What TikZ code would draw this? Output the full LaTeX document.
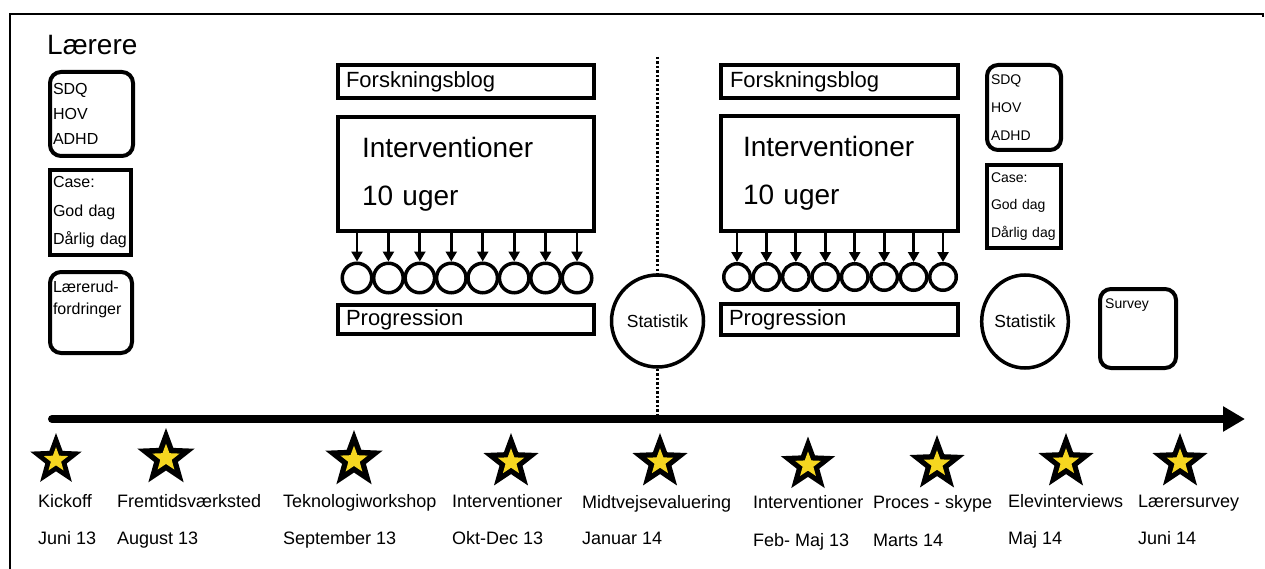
\documentclass[tikz,border=0pt]{standalone}
\usepackage{fontspec}
\setmainfont{Liberation Sans}
\usetikzlibrary{shapes.geometric,arrows.meta}
\definecolor{staryellow}{RGB}{246,214,32}
\begin{document}
\begin{tikzpicture}[x=1pt,y=-1pt,
  box/.style={draw,line width=4pt,rectangle,inner ysep=0pt,align=left},
  rbox/.style={box,rounded corners=11pt},
  fbig/.style={font=\fontsize{22}{26}\selectfont},
  fint/.style={font=\fontsize{28}{48}\selectfont},
  dot/.style={draw,circle,line width=3.5pt,inner sep=0pt},
  smallarr/.style={line width=2.8pt,-{Triangle[length=10pt,width=11pt]}},
  starout/.style={star,star points=5,star point ratio=2.4,fill=black,inner sep=0pt},
  starin/.style={star,star points=5,star point ratio=2.4,fill=staryellow,inner sep=0pt},
  lbl/.style={anchor=base west,inner sep=0pt,font=\fontsize{18}{18}\selectfont},
  stat/.style={draw,line width=3.5pt,inner sep=0pt,font=\fontsize{17.5}{20}\selectfont},
  dotline/.style={line width=2.5pt,dash pattern=on 2.5pt off 2pt}
]
\useasboundingbox (0,0) rectangle (1265,569);
% frame
\coordinate (fa) at (1263,17);
\coordinate (fb) at (1263,14);
\coordinate (fc) at (10,14);
\coordinate (fd) at (10,569);
\draw[line width=2pt] (fa) -- (fb) -- (fc) -- (fd);

% left column
\node[anchor=base west,inner sep=0pt,font=\fontsize{28}{30}\selectfont] (laerere) at (47,55) {Lærere};
\node[rbox,font=\fontsize{16}{25}\selectfont,inner xsep=3pt,text width=77pt,minimum height=84pt] (sdqL) at (91.5,114) {SDQ\\HOV\\ADHD};
\node[box,font=\fontsize{16}{28.5}\selectfont,inner xsep=3pt,text width=75pt,minimum height=85pt] (caseL) at (90.5,212.5) {Case:\\God dag\\Dårlig dag};
\node[rbox,font=\fontsize{16}{22}\selectfont,inner xsep=3pt,text width=76pt,minimum height=81pt] (udfL) at (91,312.5) {Lærerud-\\fordringer\\[8pt]\mbox{}};

% left intervention block
\node[box,fbig,inner xsep=8pt,text width=240pt,minimum height=33pt] (fbL) at (466,81.5) {Forskningsblog};
\node[box,fint,inner xsep=24pt,text width=208pt,minimum height=114pt] (intL) at (466,174) {Interventioner\\10 uger};
\node[box,fbig,inner xsep=8pt,text width=240pt,minimum height=29pt] (progL) at (466,319.5) {Progression};
\foreach \i in {0,...,7} {
  \node[dot,minimum size=29.5pt] (cL\i) at ({357+31.43*\i},278) {};
  \draw[smallarr] (intL.south -| cL\i) -- (cL\i.north);
}

% middle statistik and divider
\node[stat,circle,minimum size=92pt] (statL) at (657.5,321) {Statistik};
\coordinate (dtop) at (657.5,57);
\coordinate (dbot) at (657.5,419);
\draw[dotline] (dtop) -- (statL.north);
\draw[dotline] (statL.south) -- (dbot);

% right intervention block
\node[box,fbig,inner xsep=9pt,text width=219pt,minimum height=33pt] (fbR) at (839.5,81.5) {Forskningsblog};
\node[box,fint,inner xsep=22pt,text width=193pt,minimum height=115pt] (intR) at (839.5,173.5) {Interventioner\\10 uger};
\node[box,fbig,inner xsep=8pt,text width=221pt,minimum height=31pt] (progR) at (839.5,319.5) {Progression};
\foreach \i in {0,...,7} {
  \node[dot,minimum size=26.5pt] (cR\i) at ({737+29.43*\i},277) {};
  \draw[smallarr] (intR.south -| cR\i) -- (cR\i.north);
}

% right column
\node[rbox,font=\fontsize{14}{28}\selectfont,inner xsep=4pt,text width=66pt,minimum height=85pt] (sdqR) at (1024,107.5) {SDQ\\HOV\\ADHD};
\node[box,font=\fontsize{14}{27.5}\selectfont,inner xsep=4pt,text width=66pt,minimum height=83pt] (caseR) at (1024,206.5) {Case:\\God dag\\Dårlig dag};
\node[stat,ellipse,minimum width=83pt,minimum height=93pt] (statR) at (1025,321.5) {Statistik};
\node[rbox,minimum width=76pt,minimum height=79pt] (survey) at (1138,328.5) {};
\node[anchor=base west,inner sep=0pt,font=\fontsize{14}{16}\selectfont] (surveytxt) at (1105,308) {Survey};

% timeline
\coordinate (tl0) at (52,419);
\coordinate (tl1) at (1245,419);
\draw[line width=8pt,line cap=round,-{Triangle[length=22pt,width=24pt]}] (tl0) -- (tl1);

% stars
\foreach \n/\x/\y/\r in {1/56/460/27,2/166/458/30,3/354/460/30,4/511/462/29,5/660/462/29,6/808/465/28.5,7/937/464/29,8/1066/462/29,9/1180/462/29} {
  \node[starout,minimum size={2*\r pt}] (s\n) at (\x,\y) {};
  \node[starin,minimum size={0.95*\r pt}] (si\n) at (\x,\y) {};
}

% labels
\node[lbl] (a1) at (38,507) {Kickoff};
\node[lbl] (b1) at (38,544) {Juni 13};
\node[lbl] (a2) at (117,507) {Fremtidsværksted};
\node[lbl] (b2) at (117,544) {August 13};
\node[lbl] (a3) at (283,507) {Teknologiworkshop};
\node[lbl] (b3) at (283,544) {September 13};
\node[lbl] (a4) at (452,507) {Interventioner};
\node[lbl] (b4) at (452,544) {Okt-Dec 13};
\node[lbl] (a5) at (582,508) {Midtvejsevaluering};
\node[lbl] (b5) at (582,544) {Januar 14};
\node[lbl] (a6) at (753,508) {Interventioner};
\node[lbl] (b6) at (753,546) {Feb- Maj 13};
\node[lbl] (a7) at (873,508) {Proces - skype};
\node[lbl] (b7) at (873,546) {Marts 14};
\node[lbl] (a8) at (1008,507) {Elevinterviews};
\node[lbl] (b8) at (1008,544) {Maj 14};
\node[lbl] (a9) at (1138,507) {Lærersurvey};
\node[lbl] (b9) at (1138,544) {Juni 14};
\end{tikzpicture}
\end{document}
